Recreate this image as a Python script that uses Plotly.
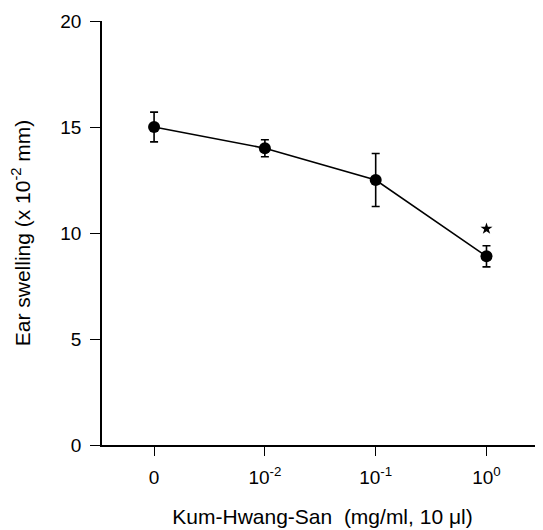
import plotly.graph_objects as go

categories = ["0", "10<sup>-2</sup>", "10<sup>-1</sup>", "10<sup>0</sup>"]
x_pos = [0, 1, 2, 3]
swelling = [15.0, 14.0, 12.5, 8.9]
err = [0.7, 0.4, 1.25, 0.5]
star_x = [3]
star_y = [10.2]
y_ticks = [0, 5, 10, 15, 20]

font_family = "Liberation Sans, Arial, sans-serif"

fig = go.Figure()
fig.add_trace(go.Scatter(
    x=x_pos, y=swelling,
    mode="lines+markers",
    line=dict(color="black", width=1.6),
    marker=dict(color="black", size=12, symbol="circle"),
    error_y=dict(type="data", array=err, visible=True, color="black", thickness=1.6, width=4),
    showlegend=False,
))
fig.add_trace(go.Scatter(
    x=star_x, y=star_y, mode="markers",
    marker=dict(symbol="star", size=9, color="black"),
    showlegend=False,
))

fig.update_layout(
    width=543, height=530,
    margin=dict(l=94, r=8, t=13, b=93),
    paper_bgcolor="white", plot_bgcolor="white",
    font=dict(family=font_family, size=18, color="black"),
)
fig.update_xaxes(
    range=[-0.47, 3.51],
    tickvals=x_pos, ticktext=categories,
    ticks="outside", ticklen=9, tickwidth=1.3, tickcolor="black",
    showline=True, linecolor="black", linewidth=1.6,
    showgrid=False, zeroline=False, automargin=False,
    tickfont=dict(size=19),
    ticklabelstandoff=5,
    title=dict(text="Kum-Hwang-San&nbsp;&nbsp;(mg/ml,&nbsp;10&nbsp;μl)", font=dict(size=21), standoff=23),
)
fig.update_yaxes(
    range=[0, 20],
    tickvals=y_ticks,
    ticks="outside", ticklen=10, tickwidth=1.3, tickcolor="black",
    showline=True, linecolor="black", linewidth=1.6,
    showgrid=False, zeroline=False, automargin=False,
    tickfont=dict(size=19),
    ticklabelstandoff=5,
    title=dict(text="Ear swelling (x 10<sup>-2</sup> mm)", font=dict(size=21), standoff=34),
)

fig.write_html("out.html")
